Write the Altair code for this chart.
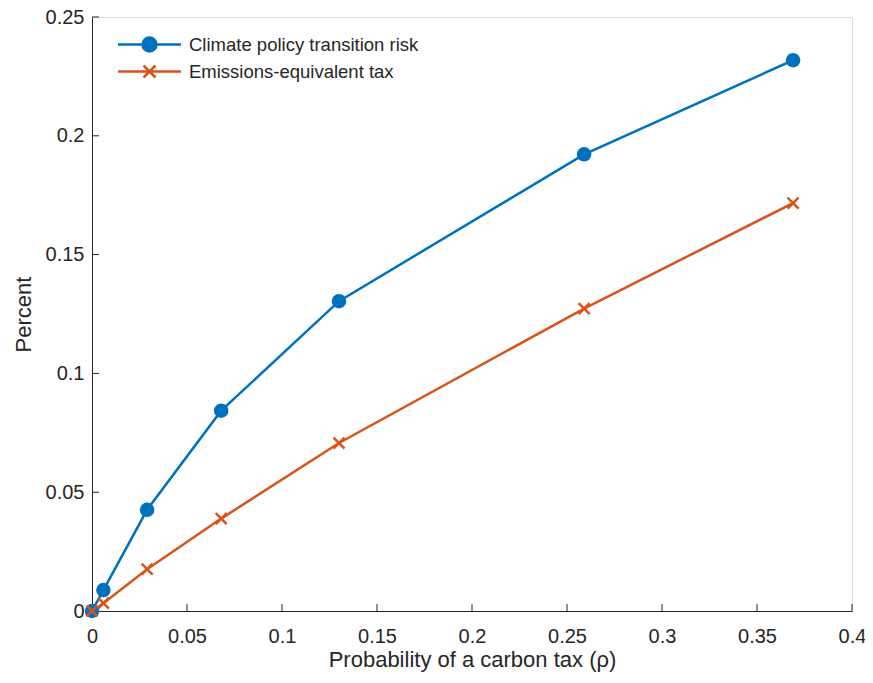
import altair as alt
import pandas as pd

# ---- data ----
x_vals = [0, 0.006, 0.029, 0.068, 0.13, 0.259, 0.369]
transition_risk = [0, 0.0088, 0.0426, 0.0843, 0.1304, 0.1922, 0.2318]
equiv_tax = [0, 0.0033, 0.0176, 0.0389, 0.0707, 0.1273, 0.1717]
series_names = ["Climate policy transition risk", "Emissions-equivalent tax"]
series_colors = ["#0072BD", "#D95319"]
x_ticks = [0, 0.05, 0.1, 0.15, 0.2, 0.25, 0.3, 0.35, 0.4]
y_ticks = [0, 0.05, 0.1, 0.15, 0.2, 0.25]

rows = []
for xv, a in zip(x_vals, transition_risk):
    rows.append({"x": xv, "y": a, "series": series_names[0], "lg": series_names[0]})
for xv, b in zip(x_vals, equiv_tax):
    rows.append({"x": xv, "y": b, "series": series_names[1], "lg": series_names[1]})
df = pd.DataFrame(rows)
df_xt = pd.DataFrame({"t": x_ticks})
df_yt = pd.DataFrame({"t": y_ticks})

W, H = 760, 594
FONT = "Liberation Sans"
INK = "#262626"

xscale = alt.Scale(domain=[0, 0.4], nice=False, zero=False)
yscale = alt.Scale(domain=[0, 0.25], nice=False, zero=False)
common = dict(format="~g", grid=False, ticks=False, domainColor=INK, labelColor=INK,
              labelFontSize=20, labelFont=FONT, labelFlush=False, labelOverlap=False,
              titleFont=FONT, titleFontSize=22, titleFontWeight="normal", titleColor=INK)
x_axis = alt.Axis(values=x_ticks, labelPadding=15, title="Probability of a carbon tax (ρ)",
                  titlePadding=3, **common)
y_axis = alt.Axis(values=y_ticks, labelPadding=8, title="Percent", titlePadding=10, **common)

X = alt.X("x:Q", scale=xscale, axis=x_axis)
Y = alt.Y("y:Q", scale=yscale, axis=y_axis)
color_scale = alt.Scale(domain=series_names, range=series_colors)

lines = alt.Chart(df).mark_line(strokeWidth=2.5).encode(
    x=X, y=Y, color=alt.Color("series:N", scale=color_scale, legend=None),
    order=alt.Order("x:Q"))

blue_pts = alt.Chart(df).transform_filter(
    alt.datum.series == series_names[0]
).mark_point(filled=True, size=210, opacity=1).encode(
    x=X, y=Y, color=alt.Color("series:N", scale=color_scale, legend=None))

orange_pts = alt.Chart(df).transform_filter(
    alt.datum.series == series_names[1]
).mark_point(filled=False, shape="M-1,-1L1,1M-1,1L1,-1", size=120, strokeWidth=2.5, opacity=1).encode(
    x=X, y=Y, color=alt.Color("series:N", scale=color_scale, legend=None))

# legend symbols: line segment with marker (unit r = sqrt(size)/2 = 10 px)
leg_paths = [
    "M-3.15,0L3.15,0"
    "M-0.7,0A0.7,0.7,0,1,1,0.7,0A0.7,0.7,0,1,1,-0.7,0"
    "M-0.5,0A0.5,0.5,0,1,1,0.5,0A0.5,0.5,0,1,1,-0.5,0"
    "M-0.3,0A0.3,0.3,0,1,1,0.3,0A0.3,0.3,0,1,1,-0.3,0"
    "M-0.1,0A0.1,0.1,0,1,1,0.1,0A0.1,0.1,0,1,1,-0.1,0",
    "M-3.15,0L3.15,0M-0.6,-0.6L0.6,0.6M-0.6,0.6L0.6,-0.6",
]
leg = alt.Legend(title=None, orient="none", legendX=46, legendY=16, padding=0,
                 labelFont=FONT, labelFontSize=18.5, labelColor=INK, labelLimit=400,
                 symbolSize=400, symbolStrokeWidth=2.5, symbolOpacity=1,
                 labelOffset=28, rowPadding=3)
legend_layer = alt.Chart(df).mark_point(filled=False, opacity=0, strokeWidth=2.5).encode(
    x=X, y=Y,
    color=alt.Color("lg:N", scale=color_scale, legend=leg),
    shape=alt.Shape("lg:N", scale=alt.Scale(domain=series_names, range=leg_paths), legend=leg))

xt = alt.Chart(df_xt).mark_rule(color=INK, strokeWidth=1).encode(
    x=alt.X("t:Q", scale=xscale, axis=x_axis), y=alt.value(H), y2=alt.value(H - 7))
yt = alt.Chart(df_yt).mark_rule(color=INK, strokeWidth=1).encode(
    y=alt.Y("t:Q", scale=yscale, axis=y_axis), x=alt.value(0), x2=alt.value(7))

chart = alt.layer(xt, yt, lines, blue_pts, orange_pts, legend_layer).resolve_scale(
    color="independent", shape="independent"
).properties(
    width=W, height=H, autosize="none",
    padding={"left": 84, "top": 9, "right": 13, "bottom": 64},
).configure_view(stroke=None).configure(background="white")

chart.save("out.html", embed_options={"renderer": "svg", "actions": False})
